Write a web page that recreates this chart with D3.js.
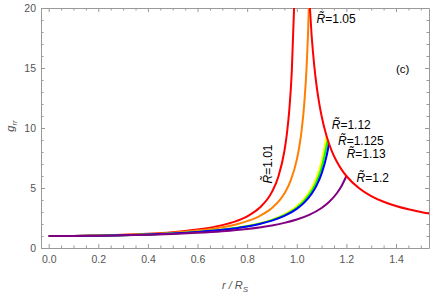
<!DOCTYPE html>
<html>
<head>
<meta charset="utf-8">
<script src="https://cdn.jsdelivr.net/npm/d3@7"></script>
<style>
  body { margin: 0; background: #fff; }
  text { font-family: "Liberation Sans", Arial, sans-serif; }
</style>
</head>
<body>
<div id="contenedor"></div>
<script>
// g_rr curves, [r/Rs, g_rr]
const interior101 = [[0,1],[0.1,1.0098],[0.2,1.0404],[0.3,1.0957],[0.4,1.1838],[0.5,1.3204],[0.6,1.5371],[0.7,1.9069],[0.75,2.2025],[0.8,2.6398],[0.85,3.3473],[0.9,4.6768],[0.925,5.898],[0.95,8.062],[0.96,9.479],[0.97,11.525],[0.98,14.738],[0.99,20.52]]
const interior105 = [[0,1],[0.1,1.0087],[0.2,1.0358],[0.3,1.0843],[0.4,1.1604],[0.5,1.2755],[0.6,1.4513],[0.7,1.7340],[0.75,1.9452],[0.8,2.2364],[0.85,2.6604],[0.9,3.3301],[0.95,4.5375],[0.975,5.5924],[1.0,7.3442],[1.01,8.4176],[1.02,9.8753],[1.03,11.968],[1.04,15.227],[1.045,17.647],[1.05,21.0]]
const interior112 = [[0,1],[0.1,1.0072],[0.2,1.0293],[0.3,1.0684],[0.4,1.1285],[0.5,1.2165],[0.6,1.3445],[0.7,1.5356],[0.8,1.8367],[0.85,2.0587],[0.9,2.3615],[0.95,2.7963],[1.0,3.4696],[1.03,4.0838],[1.06,4.9939],[1.08,5.8900],[1.1,7.2074],[1.12,9.3333]]
const interior1125 = [[0,1],[0.1,1.0071],[0.2,1.0289],[0.3,1.0675],[0.4,1.1266],[0.5,1.2130],[0.6,1.3384],[0.7,1.5247],[0.8,1.8165],[0.85,2.0302],[0.9,2.3196],[0.95,2.7312],[1.0,3.3595],[1.03,3.9233],[1.06,4.7425],[1.08,5.5310],[1.1,6.6588],[1.125,9.0]]
const interior113 = [[0,1],[0.1,1.0070],[0.2,1.0285],[0.3,1.0665],[0.4,1.1247],[0.5,1.2096],[0.6,1.3324],[0.7,1.5142],[0.8,1.7971],[0.85,2.0029],[0.9,2.2798],[0.95,2.6701],[1.0,3.2579],[1.03,3.7773],[1.06,4.5190],[1.08,5.2185],[1.1,6.1954],[1.12,7.6547],[1.13,8.6923]]
const interior12 = [[0,1],[0.1,1.0058],[0.2,1.0237],[0.3,1.0550],[0.4,1.1020],[0.5,1.1692],[0.6,1.2632],[0.7,1.3958],[0.8,1.5882],[0.9,1.8824],[0.95,2.0933],[1.0,2.3736],[1.05,2.7626],[1.1,3.3359],[1.13,3.8306],[1.16,4.5188],[1.18,5.1490],[1.2,6.0]]
const exterior = [[1.05,21],[1.06,17.667],[1.07,15.286],[1.08,13.5],[1.09,12.111],[1.1,11],[1.12,9.333],[1.14,8.143],[1.16,7.25],[1.18,6.556],[1.2,6],[1.25,5],[1.3,4.333],[1.35,3.857],[1.4,3.5],[1.45,3.222],[1.5,3],[1.55,2.818]]

const curvas = [interior101, interior105, interior112, interior1125, interior113, interior12, exterior]
const colores = ["#ff0000", "#ff8000", "#ffff00", "#00ff00", "#0000ff", "#800080", "#ff0000"]

const xTicks = [0, 0.2, 0.4, 0.6, 0.8, 1.0, 1.2, 1.4]
const yTicks = [0, 5, 10, 15, 20]

const etiquetas = [
  {t: "1.05", r: 1.080, g: 18.75},
  {t: "1.12", r: 1.141, g: 9.92},
  {t: "1.125", r: 1.166, g: 8.58},
  {t: "1.13", r: 1.201, g: 7.5},
  {t: "1.2", r: 1.241, g: 5.5}
]

ancho = 436
alto = 294
izq = 41, der = 429, arriba = 8, abajo = 248

escalaX = d3.scaleLinear().domain([-0.031, 1.533]).range([izq, der])
escalaY = d3.scaleLinear().domain([0, 20]).range([abajo, arriba])

svg = d3.select("#contenedor").append("svg")
  .attr("width", ancho)
  .attr("height", alto)

svg.append("clipPath").attr("id", "recorte")
  .append("rect").attr("x", izq).attr("y", arriba)
  .attr("width", der - izq).attr("height", abajo - arriba)

minX = d3.range(0, 31).map(i => i * 0.05).filter(v => xTicks.indexOf(+v.toFixed(2)) < 0)
minY = d3.range(0, 21).filter(v => v % 5 != 0)

function marco(g) {
  g.selectAll("path").attr("stroke", "#999")
  g.selectAll("line").attr("stroke", "#999")
  g.selectAll("text").attr("fill", "#555").style("font-size", "10.5px")
}

// bottom / top
svg.append("g").attr("transform", `translate(0,${abajo})`)
  .call(d3.axisBottom(escalaX).tickValues(xTicks).tickFormat(d3.format(".1f")).tickSize(-4).tickPadding(8).tickSizeOuter(0))
  .call(marco)
svg.append("g").attr("transform", `translate(0,${abajo})`)
  .call(d3.axisBottom(escalaX).tickValues(minX).tickFormat("").tickSize(-2.5))
  .call(g => g.select(".domain").remove()).call(marco)
svg.append("g").attr("transform", `translate(0,${arriba})`)
  .call(d3.axisTop(escalaX).tickValues(xTicks).tickFormat("").tickSize(-4).tickSizeOuter(0))
  .call(marco)
svg.append("g").attr("transform", `translate(0,${arriba})`)
  .call(d3.axisTop(escalaX).tickValues(minX).tickFormat("").tickSize(-2.5))
  .call(g => g.select(".domain").remove()).call(marco)
// left / right
svg.append("g").attr("transform", `translate(${izq},0)`)
  .call(d3.axisLeft(escalaY).tickValues(yTicks).tickSize(-4).tickPadding(5).tickSizeOuter(0))
  .call(marco)
svg.append("g").attr("transform", `translate(${izq},0)`)
  .call(d3.axisLeft(escalaY).tickValues(minY).tickFormat("").tickSize(-2.5))
  .call(g => g.select(".domain").remove()).call(marco)
svg.append("g").attr("transform", `translate(${der},0)`)
  .call(d3.axisRight(escalaY).tickValues(yTicks).tickFormat("").tickSize(-4).tickSizeOuter(0))
  .call(marco)
svg.append("g").attr("transform", `translate(${der},0)`)
  .call(d3.axisRight(escalaY).tickValues(minY).tickFormat("").tickSize(-2.5))
  .call(g => g.select(".domain").remove()).call(marco)

linea = d3.line()
  .x(d => escalaX(d[0]))
  .y(d => escalaY(d[1]))
  .curve(d3.curveMonotoneX)

svg.append("g").attr("clip-path", "url(#recorte)")
  .selectAll("path")
  .data(curvas)
  .enter()
  .append("path")
  .attr("d", linea)
  .attr("fill", "none")
  .attr("stroke", (d, i) => colores[i])
  .attr("stroke-width", 2)

// labels
function rTilde(sel, valor) {
  sel.append("tspan").style("font-style", "italic").text("R\u0303")
  sel.append("tspan").text("=" + valor)
}

svg.selectAll(".etq")
  .data(etiquetas)
  .enter()
  .append("text")
  .attr("class", "etq")
  .attr("x", d => escalaX(d.r))
  .attr("y", d => escalaY(d.g))
  .style("font-size", "12px")
  .each(function(d) { rTilde(d3.select(this), d.t) })

svg.append("text")
  .attr("transform", `translate(272,164) rotate(-90)`)
  .attr("text-anchor", "middle")
  .style("font-size", "12px")
  .call(s => rTilde(s, "1.01"))

svg.append("text")
  .attr("x", escalaX(1.400)).attr("y", escalaY(14.58))
  .style("font-size", "11.5px")
  .text("(c)")

// axis titles
svg.append("text")
  .attr("x", 235).attr("y", 289)
  .attr("text-anchor", "middle")
  .attr("fill", "#555")
  .style("font-size", "11px").style("font-style", "italic")
  .call(s => {
    s.append("tspan").text("r / R")
    s.append("tspan").attr("dy", 3).style("font-size", "8px").text("S")
  })

svg.append("text")
  .attr("transform", "translate(14,126) rotate(-90)")
  .attr("text-anchor", "middle")
  .attr("fill", "#555")
  .style("font-size", "11px").style("font-style", "italic")
  .call(s => {
    s.append("tspan").text("g")
    s.append("tspan").attr("dy", 3).style("font-size", "8px").text("rr")
  })
</script>
</body>
</html>
